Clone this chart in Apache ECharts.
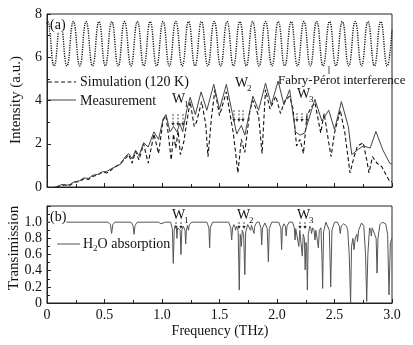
<!DOCTYPE html>
<html><head><meta charset="utf-8">
<script src="https://cdn.jsdelivr.net/npm/echarts@6/dist/echarts.min.js"></script>
<style>html,body{margin:0;padding:0;background:#fff}#c{width:413px;height:345px}</style>
</head><body><div id="c"></div>
<script>
// Fabry-Perot interference (dotted), peaks and troughs
const fpCurve = [[0,7.55],[0.006,7.65],[0.062,5.6],[0.117,7.65],[0.173,5.6],[0.229,7.65],[0.285,5.6],[0.340,7.65],[0.396,5.6],[0.452,7.65],[0.507,5.6],[0.563,7.65],[0.619,5.6],[0.674,7.65],[0.730,5.6],[0.786,7.65],[0.842,5.6],[0.897,7.65],[0.953,5.6],[1.009,7.65],[1.064,5.6],[1.120,7.65],[1.176,5.6],[1.231,7.65],[1.287,5.6],[1.343,7.65],[1.398,5.6],[1.454,7.65],[1.510,5.6],[1.566,7.65],[1.621,5.6],[1.677,7.65],[1.733,5.6],[1.788,7.65],[1.844,5.6],[1.900,7.65],[1.956,5.6],[2.011,7.65],[2.067,5.6],[2.123,7.65],[2.178,5.6],[2.234,7.65],[2.290,5.6],[2.345,7.65],[2.401,5.6],[2.457,7.65],[2.512,5.6],[2.568,7.65],[2.624,5.6],[2.680,7.65],[2.735,5.6],[2.791,7.65],[2.847,5.6],[2.902,7.65],[2.958,5.6],[3.0,7.3]];

const simulation = [[0.08,0.0],[0.12,0.05],[0.16,0.10],[0.20,0.08],[0.24,0.22],[0.28,0.25],[0.32,0.38],[0.36,0.35],[0.40,0.50],[0.44,0.55],[0.48,0.68],[0.52,0.65],[0.56,0.80],[0.60,0.95],[0.64,1.10],[0.68,1.30],[0.71,1.50],[0.74,1.10],[0.77,1.65],[0.80,1.25],[0.84,2.00],[0.88,1.10],[0.93,2.45],[0.97,1.55],[1.01,3.10],[1.035,3.30],[1.06,2.20],[1.08,1.25],[1.10,2.45],[1.12,1.80],[1.14,2.60],[1.16,1.50],[1.19,2.10],[1.215,3.00],[1.245,3.95],[1.28,2.80],[1.30,3.00],[1.345,3.95],[1.38,2.90],[1.40,1.40],[1.43,3.20],[1.46,4.50],[1.50,3.30],[1.56,4.40],[1.60,3.10],[1.62,2.50],[1.66,0.65],[1.69,2.20],[1.72,1.60],[1.765,3.55],[1.79,4.00],[1.84,3.30],[1.87,1.55],[1.90,4.50],[1.94,3.60],[1.99,4.20],[2.03,3.40],[2.07,4.00],[2.11,4.20],[2.14,3.60],[2.17,1.90],[2.20,2.20],[2.23,1.55],[2.26,3.30],[2.30,3.70],[2.33,3.90],[2.38,2.50],[2.41,3.40],[2.45,2.05],[2.47,1.40],[2.50,2.50],[2.55,3.55],[2.59,2.50],[2.635,0.65],[2.67,1.40],[2.70,1.90],[2.75,2.05],[2.78,1.25],[2.80,0.65],[2.83,1.40],[2.87,1.10],[2.91,0.95],[2.94,0.65],[2.98,0.26],[3.0,0.25]];

const measurement = [[0.07,0.0],[0.10,0.05],[0.13,0.12],[0.17,0.08],[0.20,0.12],[0.24,0.25],[0.28,0.28],[0.32,0.42],[0.36,0.40],[0.40,0.55],[0.44,0.58],[0.48,0.70],[0.52,0.72],[0.56,0.85],[0.60,0.95],[0.64,1.05],[0.68,1.40],[0.71,1.55],[0.74,1.30],[0.77,1.70],[0.80,1.45],[0.84,2.05],[0.88,1.85],[0.93,2.55],[0.97,2.20],[1.01,3.15],[1.035,3.35],[1.07,2.55],[1.10,2.80],[1.13,2.55],[1.155,2.95],[1.18,2.55],[1.215,3.55],[1.245,4.15],[1.29,3.35],[1.34,4.40],[1.39,3.55],[1.45,4.75],[1.50,3.60],[1.56,4.75],[1.60,3.70],[1.65,2.45],[1.69,2.85],[1.72,2.40],[1.79,4.20],[1.84,3.55],[1.90,4.80],[1.95,3.80],[2.01,4.90],[2.06,3.80],[2.11,4.50],[2.16,2.55],[2.20,2.40],[2.24,2.50],[2.30,3.55],[2.33,4.05],[2.39,3.05],[2.45,3.55],[2.50,2.65],[2.56,3.95],[2.62,2.80],[2.65,1.50],[2.71,1.75],[2.75,1.90],[2.81,1.80],[2.86,2.57],[2.92,1.72],[2.98,1.10],[3.0,1.05]];

const h2oTransmission = [[0,1.0],
[0.53,1.0],[0.552,0.97],[0.562,0.86],[0.572,0.97],[0.59,1.0],
[0.73,1.0],[0.748,0.96],[0.757,0.85],[0.766,0.96],[0.785,1.0],
[0.97,1.0],[0.99,0.98],[0.997,0.96],[1.005,0.98],[1.03,1.0],
[1.075,1.0],[1.09,0.92],[1.098,0.49],[1.106,0.9],[1.115,0.96],[1.125,0.93],[1.13,0.8],[1.136,0.93],[1.145,0.95],[1.158,0.9],[1.165,0.6],[1.172,0.9],[1.185,0.95],[1.2,0.9],[1.206,0.73],[1.212,0.9],[1.222,0.96],[1.23,0.9],[1.238,0.97],[1.26,1.0],
[1.39,1.0],[1.408,0.93],[1.414,0.68],[1.42,0.93],[1.44,1.0],
[1.58,1.0],[1.598,0.93],[1.606,0.78],[1.614,0.93],[1.625,0.97],[1.635,0.94],[1.64,0.9],[1.648,0.95],[1.662,0.9],[1.672,0.16],[1.68,0.85],[1.69,0.7],[1.698,0.9],[1.71,0.85],[1.72,0.35],[1.728,0.88],[1.745,0.97],[1.762,0.95],[1.77,0.9],[1.778,0.96],[1.795,0.95],[1.80,0.86],[1.806,0.95],[1.825,1.0],
[1.845,1.0],[1.86,0.93],[1.867,0.72],[1.874,0.93],[1.895,0.99],[1.915,0.92],[1.925,0.51],[1.933,0.92],[1.955,1.0],
[2.015,1.0],[2.033,0.93],[2.04,0.66],[2.047,0.93],[2.06,0.98],[2.073,0.95],[2.08,0.83],[2.087,0.95],[2.105,1.0],
[2.135,1.0],[2.15,0.93],[2.157,0.78],[2.163,0.92],[2.175,0.93],[2.19,0.7],[2.198,0.9],[2.21,0.88],[2.22,0.58],[2.228,0.85],[2.238,0.8],[2.245,0.41],[2.252,0.75],[2.258,0.7],[2.264,0.16],[2.272,0.85],[2.285,0.95],[2.295,0.92],[2.30,0.86],[2.31,0.93],[2.322,0.9],[2.33,0.78],[2.338,0.9],[2.35,0.88],[2.36,0.68],[2.368,0.9],[2.382,0.93],[2.39,0.6],[2.397,0.18],[2.405,0.88],[2.425,1.0],
[2.44,1.0],[2.455,0.9],[2.467,0.2],[2.478,0.9],[2.5,1.0],
[2.525,1.0],[2.542,0.95],[2.55,0.86],[2.558,0.95],[2.58,0.98],[2.605,0.95],[2.615,0.9],[2.62,0.78],[2.628,0.6],[2.64,0.0],[2.648,0.7],[2.66,0.8],[2.67,0.66],[2.68,0.8],[2.695,0.85],[2.70,0.76],[2.71,0.9],[2.735,0.99],[2.755,0.95],[2.77,0.6],[2.78,0.02],[2.79,0.6],[2.805,0.93],[2.815,0.9],[2.82,0.83],[2.828,0.93],[2.845,0.95],[2.862,0.8],[2.87,0.37],[2.878,0.8],[2.895,0.97],[2.915,1.0],[2.945,0.98],[2.962,0.85],[2.974,0.1],[2.986,0.75],[3.0,0.8]];

const xTickLabels = ['0','0.5','1.0','1.5','2.0','2.5','3.0'];
const seriesNames = ['Simulation (120 K)','Measurement','H2O absorption'];

const FONT = 'Liberation Serif';
const ink = '#222';
const chart = echarts.init(document.getElementById('c'), null, {renderer:'canvas'});

function xAxisCfg(gi, showLabels){
  return {type:'value', gridIndex:gi, min:0, max:3, interval:0.5,
    axisLine:{show:true, lineStyle:{color:ink, width:1}},
    axisTick:{show:true, inside:true, length:4, lineStyle:{color:ink}},
    minorTick:{show:true, splitNumber:2, length:3, lineStyle:{color:ink}},
    splitLine:{show:false},
    axisLabel:{show:showLabels, fontFamily:FONT, fontSize:14, color:'#111', margin:5,
      formatter:v=>xTickLabels[Math.round(v/0.5)]}};
}
function arrow(x, y1, y2){
  return [
    {type:'line', shape:{x1:x,y1:y1,x2:x,y2:y2-2}, style:{stroke:'#222', lineWidth:0.8, lineDash:[2,1.5]}},
    {type:'polygon', shape:{points:[[x-1.6,y2-3],[x+1.6,y2-3],[x,y2]]}, style:{fill:'#222'}}
  ];
}
const gfx = [
  {type:'text', x:16, y:100, rotation:Math.PI/2, style:{text:'Intensity (a.u.)', font:'15px "Liberation Serif"', fill:'#111', align:'center', verticalAlign:'middle'}},
  {type:'text', x:14, y:248, rotation:Math.PI/2, style:{text:'Transimission', font:'15px "Liberation Serif"', fill:'#111', align:'center', verticalAlign:'middle'}},
  {type:'text', x:220, y:331, style:{text:'Frequency (THz)', font:'14px "Liberation Serif"', fill:'#111', align:'center', verticalAlign:'middle'}},
  {type:'text', x:50, y:25, z:10, style:{text:'(a)', font:'14px "Liberation Serif"', fill:'#111', align:'left', verticalAlign:'middle', backgroundColor:'#fff'}},
  {type:'text', x:50, y:217, z:10, style:{text:'(b)', font:'14px "Liberation Serif"', fill:'#111', align:'left', verticalAlign:'middle', backgroundColor:'#fff'}},
  {type:'text', x:278, y:81, style:{text:'Fabry-Pérot interference', font:'13px "Liberation Serif"', fill:'#111', align:'left', verticalAlign:'middle'}},
  {type:'line', shape:{x1:329,y1:74,x2:329,y2:66}, style:{stroke:'#222', lineWidth:0.8}},
  // legend sample lines
  {type:'line', shape:{x1:48,y1:82,x2:76,y2:82}, style:{stroke:'#111', lineWidth:1.1, lineDash:[4,2.5]}},
  {type:'line', shape:{x1:48,y1:100,x2:76,y2:100}, style:{stroke:'#444', lineWidth:1}},
  {type:'line', shape:{x1:57,y1:244,x2:80,y2:244}, style:{stroke:'#555', lineWidth:1}},
];
const wLabels = [[172,99,'1'],[235,83,'2'],[297,94,'3'],[172,215,'1'],[237,215,'2'],[297,215,'3']];
wLabels.forEach(([x,y,s])=>{
  gfx.push({type:'text', x:x, y:y, style:{text:'W', font:'14px "Liberation Serif"', fill:'#111', align:'left', verticalAlign:'middle'}});
  gfx.push({type:'text', x:x+12, y:y+6, style:{text:s, font:'9px "Liberation Serif"', fill:'#111', align:'left', verticalAlign:'middle'}});
});
[[173,114,126],[178,114,126],[183,114,126],[234,110,122],[239,110,122],[243,110,122],[297,113,122],[302,113,122],[307,113,122],
 [176,222,229],[181,222,229],[239,222,229],[244,222,229],[300,222,229],[305,222,229]].forEach(a=>arrow(a[0],a[1],a[2]).forEach(g=>gfx.push(g)));

const option = {
  animation:false,
  backgroundColor:'#fff',
  grid:[
    {left:47, top:14, width:345, height:173, show:true, borderColor:ink, borderWidth:1, backgroundColor:'transparent'},
    {left:47, top:206, width:345, height:97, show:true, borderColor:ink, borderWidth:1, backgroundColor:'transparent'}
  ],
  xAxis:[xAxisCfg(0,false), xAxisCfg(1,true)],
  yAxis:[
    {type:'value', gridIndex:0, min:0, max:8, interval:2,
      axisLine:{show:true, lineStyle:{color:ink}}, axisTick:{show:true, inside:true, length:4, lineStyle:{color:ink}},
      minorTick:{show:true, splitNumber:2, length:3, lineStyle:{color:ink}}, splitLine:{show:false},
      axisLabel:{fontFamily:FONT, fontSize:14, color:'#111', margin:5}},
    {type:'value', gridIndex:1, min:0, max:1.2, interval:0.2,
      axisLine:{show:true, lineStyle:{color:ink}}, axisTick:{show:true, inside:true, length:4, lineStyle:{color:ink}},
      minorTick:{show:true, splitNumber:2, length:3, lineStyle:{color:ink}}, splitLine:{show:false},
      axisLabel:{fontFamily:FONT, fontSize:14, color:'#111', margin:5,
        formatter:v=> v===0 ? '0' : (v>1.1 ? '' : v.toFixed(1))}}
  ],
  legend:[
    {data:[seriesNames[0], seriesNames[1]], orient:'vertical', left:47, top:75, itemWidth:28, itemHeight:10, itemGap:5,
      icon:'none', textStyle:{fontFamily:FONT, fontSize:14, color:'#111'}, padding:0},
    {data:[seriesNames[2]], orient:'vertical', left:56, top:237, itemWidth:22, itemHeight:10, itemGap:4, padding:0,
      icon:'none', formatter:()=> 'H{sub|2}O absorption',
      textStyle:{fontFamily:FONT, fontSize:14, color:'#111', rich:{sub:{fontSize:9, fontFamily:FONT, padding:[10,0,0,0], color:'#111'}}}}
  ],
  series:[
    {name:'FP', type:'line', xAxisIndex:0, yAxisIndex:0, data:fpCurve, smooth:0.5, symbol:'none',
      lineStyle:{color:'#111', width:1.4, type:[1.2,1.2]}, z:3},
    {name:seriesNames[0], type:'line', xAxisIndex:0, yAxisIndex:0, data:simulation, symbol:'none',
      lineStyle:{color:'#111', width:1.1, type:[4,2.5]}, itemStyle:{color:'#111'}, z:4},
    {name:seriesNames[1], type:'line', xAxisIndex:0, yAxisIndex:0, data:measurement, symbol:'none',
      lineStyle:{color:'#444', width:1}, itemStyle:{color:'#444'}, z:5},
    {name:seriesNames[2], type:'line', xAxisIndex:1, yAxisIndex:1, data:h2oTransmission, symbol:'none',
      lineStyle:{color:'#555', width:1}, itemStyle:{color:'#555'}, z:4}
  ],
  graphic:gfx
};
chart.setOption(option);
</script></body></html>
